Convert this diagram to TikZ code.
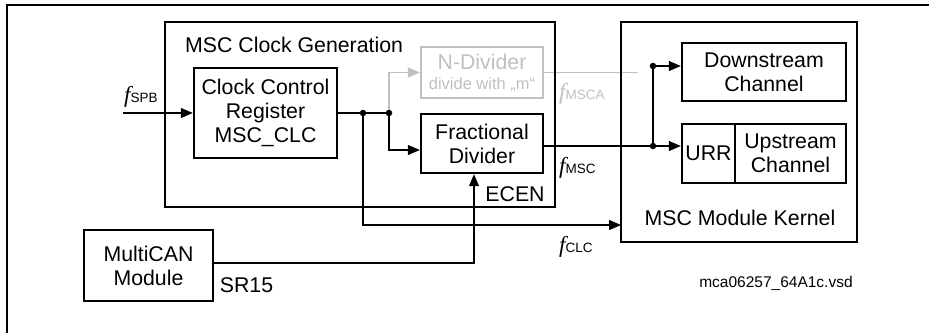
\documentclass[tikz,border=0pt]{standalone}
\usepackage{fontspec}
\setmainfont{Liberation Sans}
\newfontfamily\fserif{Liberation Serif}
\usetikzlibrary{arrows.meta,calc}
\definecolor{lgray}{RGB}{192,192,192}
\newcommand\flab[1]{{\fserif\itshape\fontsize{23}{24}\selectfont f}{\fontsize{13.5}{14}\selectfont #1}}
\tikzset{
  blk/.style={draw, line width=2.4pt, rectangle, inner sep=0pt, align=center,
    font=\fontsize{21.3}{24}\selectfont},
  arr/.style={line width=1.2pt, -{Triangle[length=12pt,width=10pt]}},
  conn/.style={line width=1.2pt},
  dot/.style={circle, fill=black, inner sep=0pt, minimum size=6.5pt},
  txt/.style={inner sep=0pt, font=\fontsize{21.3}{24}\selectfont},
}
\begin{document}
\begin{tikzpicture}[x=1pt,y=-1pt]
\useasboundingbox (0,0) rectangle (929,333);
% outer frame
\draw[line width=1.3pt] (7,333) -- (7,5) -- (929,5);

% coordinates
\coordinate (j1) at (363,113);
\coordinate (j2) at (389,113);
\coordinate (j3) at (653,66);
\coordinate (j4) at (653,146);
\coordinate (gend) at (638,72);
\coordinate (kin) at (621,225);
\coordinate (fin) at (123,113);

% connectors drawn first (boxes on top)
\node[blk, minimum width=143pt, minimum height=90pt] (ccr) at (265.5,113) {Clock Control\\Register\\MSC\_CLC};
\node[blk, minimum width=122pt, minimum height=59pt] (frac) at (482,143.5) {Fractional\\Divider};
\node[blk, draw=lgray, text=lgray, minimum width=122pt, minimum height=51pt, font=\fontsize{21.3}{22}\selectfont] (ndiv) at (482,72.5)
  {N-Divider\\[-2pt]{\fontsize{16.5}{18}\selectfont divide with „m“}};
\node[blk, minimum width=164pt, minimum height=58pt] (down) at (764,72) {Downstream\\Channel};
\node[blk, minimum width=53pt, minimum height=59pt] (urr) at (708.5,153.5) {URR};
\node[blk, minimum width=111pt, minimum height=59pt] (upch) at (790.5,153.5) {Upstream\\Channel};
\node[blk, minimum width=129pt, minimum height=71pt] (mcan) at (148.5,265.5) {MultiCAN\\Module};

\draw[conn, lgray] (ndiv.east) -- (ndiv.east -| gend);
\draw[arr] (fin) -- (ccr.west);
\draw[conn] (ccr.east) -- (j2);
\draw[arr, lgray] (j2) |- (ndiv.west);
\draw[arr] (j2) |- ([yshift=-6.5pt]frac.west);
\draw[arr] (j1) |- (kin);
\draw[arr] ([yshift=2.5pt]mcan.east) -| ([xshift=-8pt]frac.south);
\draw[conn] ([yshift=-2.5pt]frac.east) -- (j4);
\draw[conn] (j3) -- (j4);
\draw[arr] (j3) -- (down.west |- j3);
\draw[arr] (j4) -- (urr.west |- j4);

% container boxes
\node[draw, line width=2.4pt, minimum width=390pt, minimum height=185pt, inner sep=0pt] (gen) at (360,114.5) {};
\node[draw, line width=2.4pt, minimum width=236pt, minimum height=220pt, inner sep=0pt] (kern) at (739,132) {};

% dots
\node[dot] at (j1) {};
\node[dot] at (j2) {};
\node[dot] at (j3) {};
\node[dot] at (j4) {};

% labels
\node[txt, anchor=base west] (genl) at (185,52) {MSC Clock Generation};
\node[txt, anchor=base] (kernl) at (740,225) {MSC Module Kernel};
\node[txt, anchor=base] (ecen) at (515,201) {ECEN};
\node[txt, anchor=base] (sr15) at (246.5,292) {SR15};
\node[inner sep=0pt, anchor=base west] (fspb) at (124,102) {\flab{SPB}};
\node[inner sep=0pt, anchor=base west, text=lgray] (fmsca) at (559,99) {\flab{MSCA}};
\node[inner sep=0pt, anchor=base west] (fmsc) at (559,173) {\flab{MSC}};
\node[inner sep=0pt, anchor=base west] (fclc) at (559,252) {\flab{CLC}};
\node[inner sep=0pt, anchor=base, font=\fontsize{15.5}{16}\selectfont] (vsd) at (776,287) {mca06257\_64A1c.vsd};
\end{tikzpicture}
\end{document}
